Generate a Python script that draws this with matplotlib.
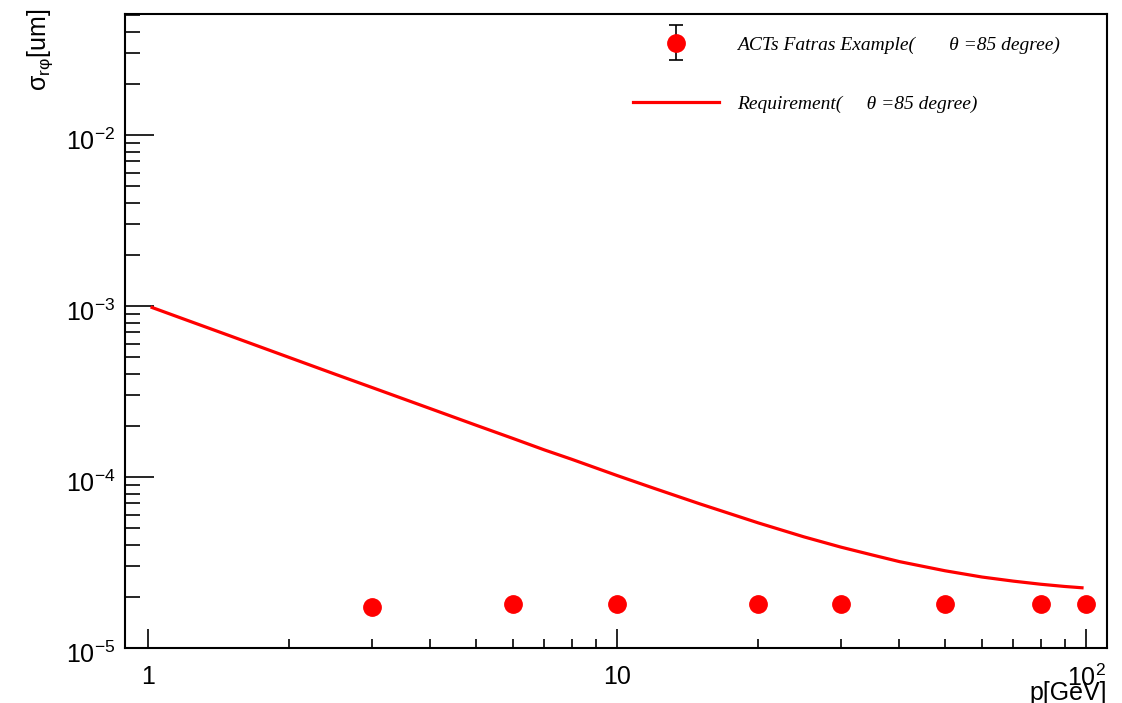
import numpy as np
import matplotlib
matplotlib.use('Agg')
import matplotlib.pyplot as plt
import matplotlib.ticker as mticker
import matplotlib.transforms as mtransforms
from matplotlib.legend_handler import HandlerErrorbar

plt.rcParams['font.family'] = ['Liberation Sans', 'DejaVu Sans']
plt.rcParams['mathtext.fontset'] = 'custom'
plt.rcParams['mathtext.rm'] = 'Liberation Sans'
plt.rcParams['mathtext.it'] = 'Liberation Sans:italic'

# measured points (ACTs Fatras example, theta = 85 deg)
p_meas = [3, 6, 10, 20, 30, 50, 80, 100]
sigma_meas = [1.73e-5, 1.80e-5, 1.80e-5, 1.80e-5, 1.80e-5, 1.80e-5, 1.80e-5, 1.80e-5]
err_meas = [0, 0, 0, 0, 0, 0, 0, 0]

# requirement curve
p_req = [1.02, 1.2, 1.5, 2, 2.5, 3, 4, 5, 6, 7, 8, 10, 12, 15, 20, 25, 30, 35, 40,
         50, 60, 70, 80, 90, 98]
sigma_req = [9.8e-4, 8.33e-4, 6.67e-4, 5.0e-4, 4.0e-4, 3.34e-4, 2.51e-4, 2.01e-4,
             1.68e-4, 1.44e-4, 1.27e-4, 1.02e-4, 8.58e-5, 6.97e-5, 5.39e-5, 4.47e-5,
             3.89e-5, 3.5e-5, 3.2e-5, 2.83e-5, 2.6e-5, 2.46e-5, 2.36e-5, 2.29e-5, 2.25e-5]

label_meas = 'ACTs Fatras Example(       θ =85 degree)'
label_req = 'Requirement(     θ =85 degree)'

minor_x = [2, 3, 4, 5, 6, 7, 8, 9, 20, 30, 40, 50, 60, 70, 80, 90]

fig = plt.figure(figsize=(11.22, 7.03), dpi=100)
ax = fig.add_axes([125 / 1122, 55 / 703, 982 / 1122, 634 / 703])

eb = ax.errorbar(p_meas, sigma_meas, yerr=err_meas, fmt='o', color='#ff0000',
                 markersize=12.5, ecolor='black', elinewidth=1.2, capsize=5,
                 capthick=1.2, label=label_meas)
line, = ax.plot(p_req, sigma_req, color='#ff0000', lw=2.3, label=label_req)

ax.set_xscale('log')
ax.set_yscale('log')
ax.set_xlim(0.893, 110.8)
ax.set_ylim(1e-5, 0.051)

ax.xaxis.set_major_locator(mticker.FixedLocator([1, 10, 100]))
ax.xaxis.set_major_formatter(mticker.FixedFormatter(['1', '10', r'$\mathregular{10^{2}}$']))
ax.xaxis.set_minor_locator(mticker.FixedLocator(minor_x))
ax.xaxis.set_minor_formatter(mticker.NullFormatter())
ax.yaxis.set_major_locator(mticker.FixedLocator([1e-5, 1e-4, 1e-3, 1e-2]))
ax.yaxis.set_major_formatter(mticker.FixedFormatter(
    [r'$\mathregular{10^{-5}}$', r'$\mathregular{10^{-4}}$',
     r'$\mathregular{10^{-3}}$', r'$\mathregular{10^{-2}}$']))
ax.yaxis.set_minor_locator(mticker.LogLocator(base=10, subs=np.arange(2, 10), numticks=20))
ax.yaxis.set_minor_formatter(mticker.NullFormatter())

ax.tick_params(axis='both', which='both', direction='in', top=False, right=False,
               width=1.2, labelsize=18)
ax.tick_params(axis='x', which='major', length=13.5, pad=12)
ax.tick_params(axis='x', which='minor', length=6.5)
ax.tick_params(axis='y', which='major', length=21, pad=7)
ax.tick_params(axis='y', which='minor', length=10.5)
for s in ax.spines.values():
    s.set_linewidth(1.5)

# root puts y labels a bit below the tick
off = mtransforms.ScaledTranslation(0, -3 / 72, fig.dpi_scale_trans)
for lab in ax.get_yticklabels():
    lab.set_transform(lab.get_transform() + off)

ax.set_xlabel('p[GeV]', fontsize=18, loc='right')
ax.xaxis.set_label_coords(1.0, -0.052)
ax.set_ylabel(r'σ$_{\mathregular{rφ}}$[um]', fontsize=18, loc='top')
ax.yaxis.set_label_coords(-0.071, 1.009)

ax.legend(handles=[eb, line], labels=[label_meas, label_req],
          handler_map={type(eb): HandlerErrorbar(yerr_size=0.9)},
          loc='upper left', bbox_to_anchor=(633 / 1122, 1 - 36 / 703),
          bbox_transform=fig.transFigure, frameon=False, borderpad=0,
          borderaxespad=0, handlelength=4.4, handletextpad=0.93,
          labelspacing=2.15, numpoints=1,
          prop={'family': 'Liberation Serif', 'style': 'italic', 'size': 14})

fig.savefig('out.png', dpi=100)
